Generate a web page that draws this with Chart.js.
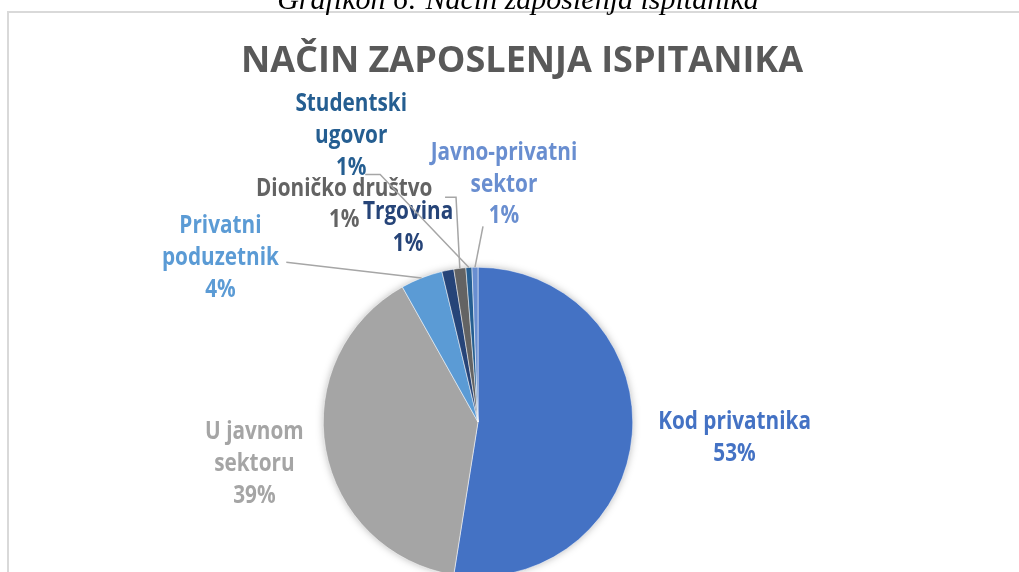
<!DOCTYPE html>
<html>
<head>
<meta charset="utf-8">
<script src="https://cdn.jsdelivr.net/npm/chart.js@4.4.1/dist/chart.umd.min.js"></script>
<style>
  html, body { margin: 0; padding: 0; background: #fff; overflow: hidden; width: 1019px; height: 572px; }
  #frame { position: absolute; left: 7px; top: 11px; width: 1100px; height: 700px;
           border-left: 2px solid #d9d9d9; border-top: 2px solid #d9d9d9; }
  #chart { position: absolute; left: 0; top: 0; }
</style>
</head>
<body>
<div id="frame"></div>
<canvas id="chart" width="1019" height="620"></canvas>
<script>
const categories = ["Kod privatnika", "U javnom sektoru", "Privatni poduzetnik", "Trgovina",
  "Dioničko društvo", "Studentski ugovor", "Javno-privatni sektor"];
const respondents = [84, 63, 7, 2, 2, 1, 1];
const sliceColors = ["#4472C4", "#A5A5A5", "#5B9BD5", "#264478", "#636363", "#255E91", "#698ED0"];
const labelLines = [["Kod privatnika"], ["U javnom", "sektoru"], ["Privatni", "poduzetnik"], ["Trgovina"],
  ["Dioničko društvo"], ["Studentski", "ugovor"], ["Javno-privatni", "sektor"]];
const chartTitle = "NAČIN ZAPOSLENJA ISPITANIKA";
const caption = "Grafikon 6: Način zaposlenja ispitanika";

// label placement, px from pie centre for a radius of 155
const labelLayout = [
  { dx: 257, dy: 0 },
  { dx: -224, dy: 10 },
  { dx: -258, dy: -196, leader: [[-192, -160]] },
  { dx: -70, dy: -210 },
  { dx: -134, dy: -234, leader: [[-33, -225], [-22, -225]] },
  { dx: -127, dy: -319, leader: [[-113, -248], [-98, -248]] },
  { dx: 26, dy: -270, leader: [[5, -196]] },
];

const total = respondents.reduce((a, b) => a + b, 0);

function squeezedText(ctx, text, x, y, sx) {
  ctx.save();
  ctx.translate(x, y);
  ctx.scale(sx, 1);
  ctx.fillText(text, 0, 0);
  ctx.restore();
}

const pieShadow = {
  id: "pieShadow",
  beforeDatasetsDraw(chart) {
    const arc = chart.getDatasetMeta(0).data[0];
    if (!arc) return;
    const { x, y, outerRadius } = arc.getProps(["x", "y", "outerRadius"], true);
    const ctx = chart.ctx;
    ctx.save();
    ctx.shadowColor = "rgba(0,0,0,0.35)";
    ctx.shadowBlur = 9;
    ctx.beginPath();
    ctx.arc(x, y, outerRadius - 1, 0, Math.PI * 2);
    ctx.fillStyle = "#fff";
    ctx.fill();
    ctx.restore();
  }
};

const sliceLabels = {
  id: "sliceLabels",
  afterDraw(chart) {
    const ctx = chart.ctx;
    const arcs = chart.getDatasetMeta(0).data;

    ctx.save();
    ctx.textAlign = "center";
    ctx.textBaseline = "alphabetic";
    ctx.fillStyle = "#000";
    ctx.font = 'italic 30px "Liberation Serif"';
    ctx.fillText(caption, 518, 9);
    ctx.fillStyle = "#595959";
    ctx.font = 'bold 36px "Open Sans"';
    ctx.fillText(chartTitle, 522, 72);
    ctx.restore();

    arcs.forEach((arc, i) => {
      const p = arc.getProps(["x", "y", "startAngle", "endAngle", "outerRadius"], true);
      const s = p.outerRadius / 155;
      const lay = labelLayout[i];

      if (lay.leader) {
        const mid = (p.startAngle + p.endAngle) / 2;
        ctx.save();
        ctx.strokeStyle = "#a6a6a6";
        ctx.lineWidth = 1.5;
        ctx.beginPath();
        lay.leader.forEach(([lx, ly], k) => {
          const px = p.x + lx * s, py = p.y + ly * s;
          if (k === 0) ctx.moveTo(px, py); else ctx.lineTo(px, py);
        });
        ctx.lineTo(p.x + Math.cos(mid) * p.outerRadius, p.y + Math.sin(mid) * p.outerRadius);
        ctx.stroke();
        ctx.restore();
      }

      const lines = labelLines[i].concat([Math.round(respondents[i] / total * 100) + "%"]);
      ctx.save();
      ctx.fillStyle = sliceColors[i];
      ctx.font = 'bold 25px "Open Sans"';
      ctx.textAlign = "center";
      ctx.textBaseline = "middle";
      lines.forEach((t, k) => {
        squeezedText(ctx, t, p.x + lay.dx * s, p.y + (lay.dy + k * 32) * s, 0.83);
      });
      ctx.restore();
    });
  }
};

new Chart(document.getElementById("chart"), {
  type: "pie",
  data: {
    labels: categories,
    datasets: [{
      data: respondents,
      backgroundColor: sliceColors,
      borderColor: "#ffffff",
      borderWidth: 0.5,
    }],
  },
  options: {
    responsive: false,
    animation: false,
    events: [],
    layout: { padding: { left: 323, right: 386, top: 267, bottom: 43 } },
    plugins: {
      legend: { display: false },
      tooltip: { enabled: false },
      title: { display: false },
    },
  },
  plugins: [pieShadow, sliceLabels],
});
</script>
</body>
</html>
